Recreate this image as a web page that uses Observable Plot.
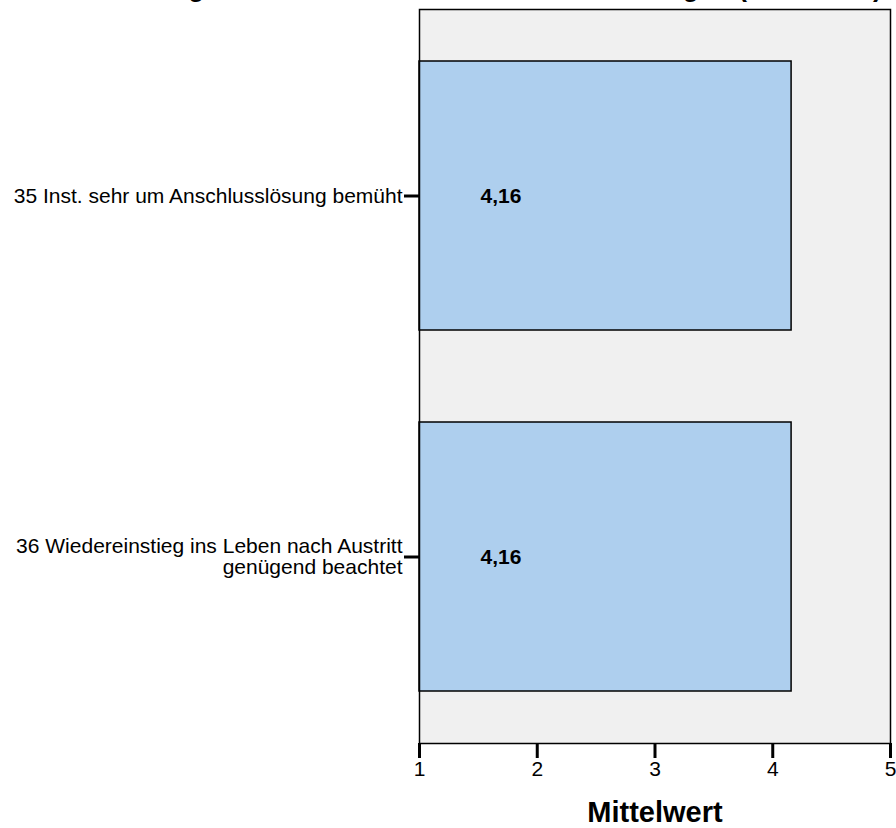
<!DOCTYPE html>
<html>
<head>
<meta charset="utf-8">
<script src="https://cdn.jsdelivr.net/npm/d3@7"></script>
<script src="https://cdn.jsdelivr.net/npm/@observablehq/plot@0.6"></script>
<style>
  html, body { margin: 0; padding: 0; background: white; width: 896px; height: 828px; overflow: hidden; }
  #wrap { position: relative; width: 896px; height: 828px; }
  #title { position: absolute; top: -26px; right: 14px; font: bold 27px "Liberation Sans", Arial, sans-serif; line-height: 27px; white-space: nowrap; color: black; }
  #chart { position: absolute; top: 0; left: 0; }
</style>
</head>
<body>
<div id="wrap">
  <div id="chart"></div>
  <div id="title">Vorbereitung auf den Austritt und Anschlusslösungen (Mittelwert)</div>
</div>
<script>
const categories = [
  "35 Inst. sehr um Anschlusslösung bemüht",
  "36 Wiedereinstieg ins Leben nach Austritt\ngenügend beachtet"
];
const values = [4.16, 4.16];
const valueLabels = ["4,16", "4,16"];
const xTicks = [1, 2, 3, 4, 5];
const xDomain = [1, 5];
const baseline = 1;
const axisTitle = "Mittelwert";

const data = categories.map((c, i) => ({cat: c, value: values[i], label: valueLabels[i]}));

const chart = Plot.plot({
  width: 896,
  height: 828,
  marginTop: 9,
  marginBottom: 85,
  marginLeft: 419,
  marginRight: 6,
  style: {fontFamily: "'Liberation Sans', Arial, sans-serif", fontSize: "21px", color: "black", background: "white"},
  x: {domain: xDomain, ticks: xTicks, label: null},
  y: {domain: categories, paddingInner: 0.255, paddingOuter: 0.144, label: null},
  marks: [
    Plot.frame({fill: "#f0f0f0", stroke: null}),
    Plot.barX(data, {y: "cat", x1: () => baseline, x2: "value", fill: "#aecfee", stroke: "black", strokeWidth: 1.5}),
    Plot.text(data, {y: "cat", x: () => baseline, text: "label", textAnchor: "start", dx: 61, fontWeight: "bold", fontSize: 21, fill: "black"}),
    Plot.frame({stroke: "black", strokeWidth: 1.5}),
    Plot.axisX({ticks: xTicks, tickSize: 15, tickPadding: 3, strokeWidth: 3, tickFormat: d => String(d), label: null, fill: "black"}),
    Plot.axisY({tickSize: 15, tickPadding: 2, strokeWidth: 3, label: null, fill: "black", fontSize: 21, lineHeight: 1}),
    Plot.text([axisTitle], {frameAnchor: "bottom", text: d => d, dy: 69, lineAnchor: "middle", fontWeight: "bold", fontSize: 29, fill: "black"})
  ]
});
document.getElementById("chart").appendChild(chart);
</script>
</body>
</html>
